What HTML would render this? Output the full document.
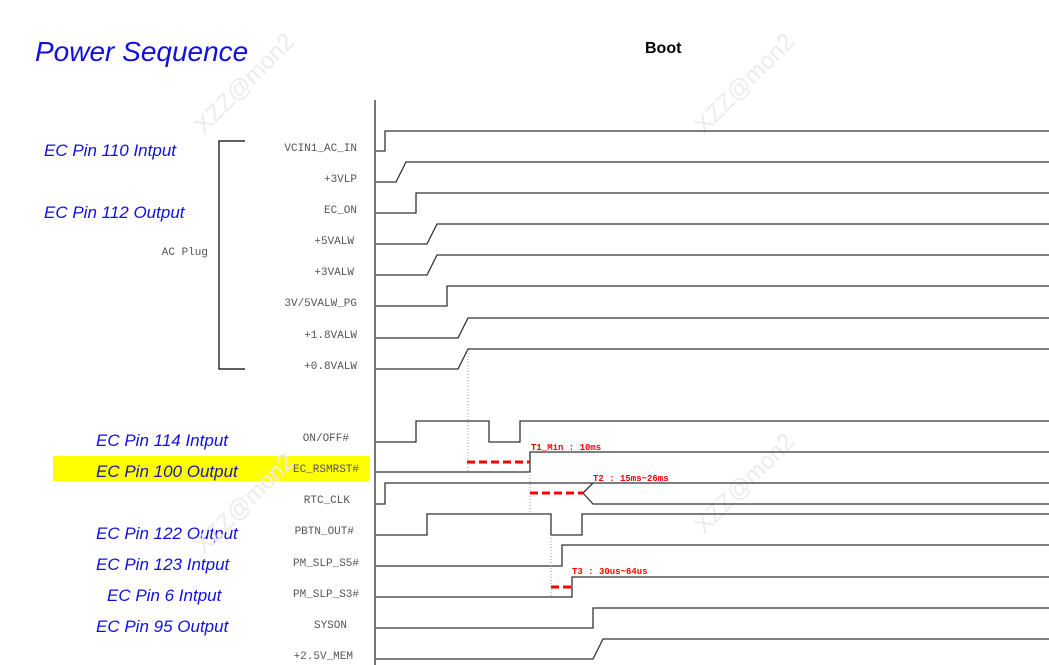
<!DOCTYPE html>
<html><head><meta charset="utf-8"><style>
html,body{margin:0;padding:0;background:#fff;}
body{width:1049px;height:665px;position:relative;overflow:hidden;font-family:"Liberation Sans",sans-serif;}
.b{position:absolute;color:#1010e0;font-style:italic;font-size:17px;white-space:nowrap;}
.wm{position:absolute;color:#ececec;font-size:24px;transform:rotate(-45deg);white-space:nowrap;}
</style></head><body>
<div style="position:absolute;left:53px;top:456px;width:316px;height:25px;background:#ffff00"></div>
<div class="b" style="left:35px;top:36px;font-size:28px">Power Sequence</div>
<div style="position:absolute;left:645px;top:40px;font-size:16px;font-weight:bold">Boot</div>
<div class="b" style="left:44px;top:141px">EC Pin 110 Intput</div>
<div class="b" style="left:44px;top:203px">EC Pin 112 Output</div>
<div class="b" style="left:96px;top:431px">EC Pin 114 Intput</div>
<div class="b" style="left:96px;top:462px;color:#1a1aa0">EC Pin 100 Output</div>
<div class="b" style="left:96px;top:524px">EC Pin 122 Output</div>
<div class="b" style="left:96px;top:555px">EC Pin 123 Intput</div>
<div class="b" style="left:107px;top:586px">EC Pin 6 Intput</div>
<div class="b" style="left:96px;top:617px">EC Pin 95 Output</div>
<div class="wm" style="left:180px;top:70px">XZZ@mon2</div>
<div class="wm" style="left:680px;top:70px">XZZ@mon2</div>
<div class="wm" style="left:680px;top:470px">XZZ@mon2</div>
<div class="wm" style="left:180px;top:490px">XZZ@mon2</div>
<svg width="1049" height="665" style="position:absolute;left:0;top:0">
<g font-family="Liberation Mono,monospace" font-size="11" fill="#555" text-anchor="end">
<text x="357" y="151">VCIN1_AC_IN</text><text x="357" y="182">+3VLP</text><text x="357" y="213">EC_ON</text>
<text x="354" y="244">+5VALW</text><text x="354" y="275">+3VALW</text><text x="357" y="306">3V/5VALW_PG</text>
<text x="357" y="338">+1.8VALW</text><text x="357" y="369">+0.8VALW</text>
<text x="349" y="441">ON/OFF#</text><text x="359" y="472">EC_RSMRST#</text><text x="350" y="503">RTC_CLK</text>
<text x="354" y="534">PBTN_OUT#</text><text x="359" y="566">PM_SLP_S5#</text><text x="359" y="597">PM_SLP_S3#</text>
<text x="347" y="628">SYSON</text><text x="353" y="659">+2.5V_MEM</text>
<text x="208" y="255" text-anchor="end">AC Plug</text>
</g>
<path d="M245 141H219V369H245" fill="none" stroke="#000" stroke-width="1.2"/>
<line x1="375" y1="100" x2="375" y2="665" stroke="#777" stroke-width="2"/>
<g fill="none" stroke="#333" stroke-width="1.3">
<path d="M376 151H385V131H1049"/>
<path d="M376 182H396L406 162H1049"/>
<path d="M376 213H416V193H1049"/>
<path d="M376 244H427L437 224H1049"/>
<path d="M376 275H427L437 255H1049"/>
<path d="M376 306H447V286H1049"/>
<path d="M376 338H458L468 318H1049"/>
<path d="M376 369H458L468 349H1049"/>
<path d="M376 442H416V421H489V442H520V421H1049"/>
<path d="M376 472H530V452H1049"/>
<path d="M376 504H385V483H1049"/>
<path d="M583 493L593 504H1049M583 493L593 483"/>
<path d="M376 535H427V514H551V535H582V514H1049"/>
<path d="M376 566H562V545H1049"/>
<path d="M376 597H572V577H1049"/>
<path d="M376 628H593V608H1049"/>
<path d="M376 659H593L603 639H1049"/>
</g>
<g stroke="#999" stroke-width="1" stroke-dasharray="1,2">
<line x1="468" y1="350" x2="468" y2="472"/><line x1="530" y1="472" x2="530" y2="514"/><line x1="551" y1="535" x2="551" y2="597"/>
</g>
<g stroke="#f00" stroke-width="3" stroke-dasharray="8,4">
<line x1="467" y1="462" x2="530" y2="462"/><line x1="530" y1="493" x2="583" y2="493"/><line x1="551" y1="587" x2="572" y2="587"/>
</g>
<g font-family="Liberation Mono,monospace" font-size="9" font-weight="bold" fill="#f00">
<text x="531" y="450">T1_Min : 10ms</text><text x="593" y="481">T2 : 15ms~26ms</text><text x="572" y="574">T3 : 30us~64us</text>
</g>
</svg>
</body></html>
